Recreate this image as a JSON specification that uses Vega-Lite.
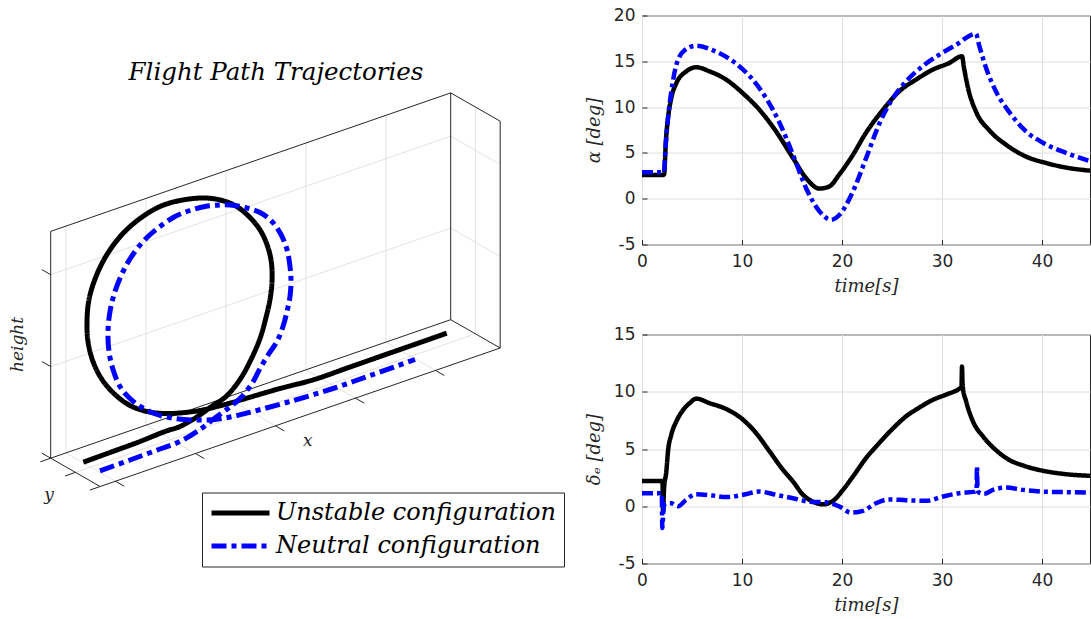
{
  "$schema": "https://vega.github.io/schema/vega-lite/v6.json",
  "background": "white",
  "padding": {"left": 0, "top": 5.5, "right": 0, "bottom": 0},
  "spacing": 62,
  "bounds": "flush",
  "resolve": {"scale": {"color": "independent", "strokeDash": "independent"}},
  "datasets": {
    "traj": [
      {"config": "Unstable configuration", "i": 1, "u": 32.6, "v": -4.0},
      {"config": "Unstable configuration", "i": 2, "u": 59.3, "v": 5.7},
      {"config": "Unstable configuration", "i": 3, "u": 89.3, "v": 16.7},
      {"config": "Unstable configuration", "i": 4, "u": 114.3, "v": 26.7},
      {"config": "Unstable configuration", "i": 5, "u": 129.3, "v": 31.7},
      {"config": "Unstable configuration", "i": 6, "u": 145.3, "v": 40.7},
      {"config": "Unstable configuration", "i": 7, "u": 162.3, "v": 52.7},
      {"config": "Unstable configuration", "i": 8, "u": 175.3, "v": 61.7},
      {"config": "Unstable configuration", "i": 9, "u": 189.3, "v": 78.7},
      {"config": "Unstable configuration", "i": 10, "u": 200.3, "v": 98.7},
      {"config": "Unstable configuration", "i": 11, "u": 209.3, "v": 119.7},
      {"config": "Unstable configuration", "i": 12, "u": 215.3, "v": 140.7},
      {"config": "Unstable configuration", "i": 13, "u": 219.3, "v": 158.7},
      {"config": "Unstable configuration", "i": 14, "u": 221.3, "v": 176.7},
      {"config": "Unstable configuration", "i": 15, "u": 220.8, "v": 194.7},
      {"config": "Unstable configuration", "i": 16, "u": 217.3, "v": 210.7},
      {"config": "Unstable configuration", "i": 17, "u": 210.3, "v": 226.7},
      {"config": "Unstable configuration", "i": 18, "u": 199.3, "v": 240.7},
      {"config": "Unstable configuration", "i": 19, "u": 184.3, "v": 252.7},
      {"config": "Unstable configuration", "i": 20, "u": 167.3, "v": 258.7},
      {"config": "Unstable configuration", "i": 21, "u": 151.0, "v": 260.2},
      {"config": "Unstable configuration", "i": 22, "u": 129.3, "v": 257.7},
      {"config": "Unstable configuration", "i": 23, "u": 109.3, "v": 251.7},
      {"config": "Unstable configuration", "i": 24, "u": 89.3, "v": 239.7},
      {"config": "Unstable configuration", "i": 25, "u": 71.3, "v": 223.7},
      {"config": "Unstable configuration", "i": 26, "u": 56.3, "v": 203.7},
      {"config": "Unstable configuration", "i": 27, "u": 45.3, "v": 181.7},
      {"config": "Unstable configuration", "i": 28, "u": 38.3, "v": 158.7},
      {"config": "Unstable configuration", "i": 29, "u": 36.3, "v": 136.7},
      {"config": "Unstable configuration", "i": 30, "u": 37.3, "v": 116.7},
      {"config": "Unstable configuration", "i": 31, "u": 42.3, "v": 96.7},
      {"config": "Unstable configuration", "i": 32, "u": 51.3, "v": 78.7},
      {"config": "Unstable configuration", "i": 33, "u": 64.3, "v": 63.7},
      {"config": "Unstable configuration", "i": 34, "u": 79.3, "v": 52.7},
      {"config": "Unstable configuration", "i": 35, "u": 96.3, "v": 46.7},
      {"config": "Unstable configuration", "i": 36, "u": 114.3, "v": 44.7},
      {"config": "Unstable configuration", "i": 37, "u": 134.3, "v": 45.7},
      {"config": "Unstable configuration", "i": 38, "u": 154.3, "v": 48.7},
      {"config": "Unstable configuration", "i": 39, "u": 174.3, "v": 53.7},
      {"config": "Unstable configuration", "i": 40, "u": 196.0, "v": 60.0},
      {"config": "Unstable configuration", "i": 41, "u": 229.3, "v": 69.7},
      {"config": "Unstable configuration", "i": 42, "u": 262.6, "v": 78.4},
      {"config": "Unstable configuration", "i": 43, "u": 296.0, "v": 90.0},
      {"config": "Unstable configuration", "i": 44, "u": 329.3, "v": 101.7},
      {"config": "Unstable configuration", "i": 45, "u": 362.3, "v": 113.2},
      {"config": "Unstable configuration", "i": 46, "u": 396.0, "v": 125.0},
      {"config": "Neutral configuration", "i": 1, "u": 49.3, "v": -12.6},
      {"config": "Neutral configuration", "i": 2, "u": 79.3, "v": -1.8},
      {"config": "Neutral configuration", "i": 3, "u": 109.3, "v": 9.2},
      {"config": "Neutral configuration", "i": 4, "u": 129.3, "v": 16.7},
      {"config": "Neutral configuration", "i": 5, "u": 149.3, "v": 28.7},
      {"config": "Neutral configuration", "i": 6, "u": 162.3, "v": 38.7},
      {"config": "Neutral configuration", "i": 7, "u": 177.3, "v": 49.7},
      {"config": "Neutral configuration", "i": 8, "u": 189.3, "v": 59.7},
      {"config": "Neutral configuration", "i": 9, "u": 201.3, "v": 74.7},
      {"config": "Neutral configuration", "i": 10, "u": 209.3, "v": 89.7},
      {"config": "Neutral configuration", "i": 11, "u": 218.3, "v": 104.7},
      {"config": "Neutral configuration", "i": 12, "u": 226.3, "v": 116.7},
      {"config": "Neutral configuration", "i": 13, "u": 232.3, "v": 131.7},
      {"config": "Neutral configuration", "i": 14, "u": 236.3, "v": 146.7},
      {"config": "Neutral configuration", "i": 15, "u": 239.3, "v": 161.7},
      {"config": "Neutral configuration", "i": 16, "u": 240.3, "v": 176.7},
      {"config": "Neutral configuration", "i": 17, "u": 239.3, "v": 191.7},
      {"config": "Neutral configuration", "i": 18, "u": 236.3, "v": 208.7},
      {"config": "Neutral configuration", "i": 19, "u": 230.3, "v": 223.7},
      {"config": "Neutral configuration", "i": 20, "u": 221.3, "v": 236.7},
      {"config": "Neutral configuration", "i": 21, "u": 209.3, "v": 245.7},
      {"config": "Neutral configuration", "i": 22, "u": 194.3, "v": 250.7},
      {"config": "Neutral configuration", "i": 23, "u": 179.3, "v": 253.2},
      {"config": "Neutral configuration", "i": 24, "u": 169.3, "v": 253.2},
      {"config": "Neutral configuration", "i": 25, "u": 154.3, "v": 251.7},
      {"config": "Neutral configuration", "i": 26, "u": 139.3, "v": 247.7},
      {"config": "Neutral configuration", "i": 27, "u": 124.3, "v": 241.7},
      {"config": "Neutral configuration", "i": 28, "u": 109.3, "v": 231.7},
      {"config": "Neutral configuration", "i": 29, "u": 96.3, "v": 220.7},
      {"config": "Neutral configuration", "i": 30, "u": 84.3, "v": 206.7},
      {"config": "Neutral configuration", "i": 31, "u": 73.3, "v": 188.7},
      {"config": "Neutral configuration", "i": 32, "u": 64.3, "v": 166.7},
      {"config": "Neutral configuration", "i": 33, "u": 59.3, "v": 146.7},
      {"config": "Neutral configuration", "i": 34, "u": 57.3, "v": 126.7},
      {"config": "Neutral configuration", "i": 35, "u": 58.3, "v": 106.7},
      {"config": "Neutral configuration", "i": 36, "u": 62.3, "v": 88.7},
      {"config": "Neutral configuration", "i": 37, "u": 69.3, "v": 71.7},
      {"config": "Neutral configuration", "i": 38, "u": 79.3, "v": 59.7},
      {"config": "Neutral configuration", "i": 39, "u": 91.3, "v": 50.7},
      {"config": "Neutral configuration", "i": 40, "u": 106.3, "v": 43.7},
      {"config": "Neutral configuration", "i": 41, "u": 124.3, "v": 39.7},
      {"config": "Neutral configuration", "i": 42, "u": 144.3, "v": 38.2},
      {"config": "Neutral configuration", "i": 43, "u": 164.3, "v": 38.7},
      {"config": "Neutral configuration", "i": 44, "u": 184.3, "v": 42.2},
      {"config": "Neutral configuration", "i": 45, "u": 202.3, "v": 46.7},
      {"config": "Neutral configuration", "i": 46, "u": 239.3, "v": 56.7},
      {"config": "Neutral configuration", "i": 47, "u": 282.3, "v": 69.7},
      {"config": "Neutral configuration", "i": 48, "u": 322.3, "v": 83.7},
      {"config": "Neutral configuration", "i": 49, "u": 364.3, "v": 98.7}
    ],
    "box": [
      {"part": "edge", "u1": 0, "v1": 0, "u2": 400, "v2": 138.5},
      {"part": "edge", "u1": 0, "v1": 0, "u2": 0, "v2": 226.8},
      {"part": "edge", "u1": 0, "v1": 226.8, "u2": 400, "v2": 365.3},
      {"part": "edge", "u1": 400, "v1": 138.5, "u2": 400, "v2": 365.3},
      {"part": "edge", "u1": 0, "v1": 0, "u2": 49.5, "v2": -28.3},
      {"part": "edge", "u1": 49.5, "v1": -28.3, "u2": 449.5, "v2": 110.2},
      {"part": "edge", "u1": 400, "v1": 365.3, "u2": 449.5, "v2": 337},
      {"part": "edge", "u1": 449.5, "v1": 110.2, "u2": 449.5, "v2": 337},
      {"part": "edge", "u1": 400, "v1": 138.5, "u2": 449.5, "v2": 110.2},
      {"part": "grid", "u1": 15.2, "v1": 5.3, "u2": 15.2, "v2": 232.1},
      {"part": "grid", "u1": 95.2, "v1": 33.0, "u2": 95.2, "v2": 259.8},
      {"part": "grid", "u1": 175.2, "v1": 60.7, "u2": 175.2, "v2": 287.5},
      {"part": "grid", "u1": 255.2, "v1": 88.4, "u2": 255.2, "v2": 315.2},
      {"part": "grid", "u1": 335.2, "v1": 116.1, "u2": 335.2, "v2": 342.9},
      {"part": "grid", "u1": 15.2, "v1": 5.3, "u2": 64.7, "v2": -23.0},
      {"part": "grid", "u1": 95.2, "v1": 33.0, "u2": 144.7, "v2": 4.7},
      {"part": "grid", "u1": 175.2, "v1": 60.7, "u2": 224.7, "v2": 32.4},
      {"part": "grid", "u1": 255.2, "v1": 88.4, "u2": 304.7, "v2": 60.1},
      {"part": "grid", "u1": 335.2, "v1": 116.1, "u2": 384.7, "v2": 87.8},
      {"part": "grid", "u1": 0, "v1": 91.6, "u2": 400, "v2": 230.1},
      {"part": "grid", "u1": 0, "v1": 183.5, "u2": 400, "v2": 322.0},
      {"part": "grid", "u1": 400, "v1": 230.1, "u2": 449.5, "v2": 201.8},
      {"part": "grid", "u1": 400, "v1": 322.0, "u2": 449.5, "v2": 293.7},
      {"part": "grid", "u1": 24.75, "v1": -14.15, "u2": 424.75, "v2": 124.35},
      {"part": "grid", "u1": 424.75, "v1": 124.35, "u2": 424.75, "v2": 351.15},
      {"part": "tick", "u1": 0, "v1": 0, "u2": -8.9, "v2": 5.1},
      {"part": "tick", "u1": 0, "v1": 91.6, "u2": -8.9, "v2": 96.7},
      {"part": "tick", "u1": 0, "v1": 183.5, "u2": -8.9, "v2": 188.6},
      {"part": "tick", "u1": 64.7, "v1": -23.0, "u2": 73.6, "v2": -28.1},
      {"part": "tick", "u1": 144.7, "v1": 4.7, "u2": 153.6, "v2": -0.4},
      {"part": "tick", "u1": 224.7, "v1": 32.4, "u2": 233.6, "v2": 27.3},
      {"part": "tick", "u1": 304.7, "v1": 60.1, "u2": 313.6, "v2": 55.0},
      {"part": "tick", "u1": 384.7, "v1": 87.8, "u2": 393.6, "v2": 82.7},
      {"part": "tick", "u1": 0, "v1": 0, "u2": -10.4, "v2": -3.6},
      {"part": "tick", "u1": 24.75, "v1": -14.15, "u2": 14.35, "v2": -17.75},
      {"part": "tick", "u1": 49.5, "v1": -28.3, "u2": 39.1, "v2": -31.9}
    ],
    "names": [
      {"name": "x", "u": 257, "v": 17.7},
      {"name": "y", "u": -1.7, "v": -36.3},
      {"name": "height", "u": -32.7, "v": 113.7}
    ],
    "alpha": [
      {"config": "Unstable configuration", "t": 0, "alpha": 2.6},
      {"config": "Unstable configuration", "t": 2.2, "alpha": 2.6},
      {"config": "Unstable configuration", "t": 2.4, "alpha": 6.5},
      {"config": "Unstable configuration", "t": 2.6, "alpha": 8.8},
      {"config": "Unstable configuration", "t": 2.93, "alpha": 11.0},
      {"config": "Unstable configuration", "t": 3.43, "alpha": 12.6},
      {"config": "Unstable configuration", "t": 4.43, "alpha": 13.9},
      {"config": "Unstable configuration", "t": 5.43, "alpha": 14.35},
      {"config": "Unstable configuration", "t": 6.76, "alpha": 13.9},
      {"config": "Unstable configuration", "t": 8.42, "alpha": 13.0},
      {"config": "Unstable configuration", "t": 10.1, "alpha": 11.5},
      {"config": "Unstable configuration", "t": 11.75, "alpha": 9.7},
      {"config": "Unstable configuration", "t": 13.4, "alpha": 7.36},
      {"config": "Unstable configuration", "t": 15.1, "alpha": 4.44},
      {"config": "Unstable configuration", "t": 16.4, "alpha": 2.26},
      {"config": "Unstable configuration", "t": 17.75, "alpha": 1.1},
      {"config": "Unstable configuration", "t": 18.75, "alpha": 1.35},
      {"config": "Unstable configuration", "t": 19.7, "alpha": 2.6},
      {"config": "Unstable configuration", "t": 21.1, "alpha": 4.8},
      {"config": "Unstable configuration", "t": 22.4, "alpha": 7.2},
      {"config": "Unstable configuration", "t": 24.1, "alpha": 9.7},
      {"config": "Unstable configuration", "t": 25.7, "alpha": 11.7},
      {"config": "Unstable configuration", "t": 27.4, "alpha": 13.0},
      {"config": "Unstable configuration", "t": 29.1, "alpha": 14.1},
      {"config": "Unstable configuration", "t": 30.7, "alpha": 14.8},
      {"config": "Unstable configuration", "t": 32.0, "alpha": 15.55},
      {"config": "Unstable configuration", "t": 32.2, "alpha": 14.3},
      {"config": "Unstable configuration", "t": 32.6, "alpha": 12.1},
      {"config": "Unstable configuration", "t": 33.4, "alpha": 9.5},
      {"config": "Unstable configuration", "t": 34.7, "alpha": 7.5},
      {"config": "Unstable configuration", "t": 36.4, "alpha": 5.9},
      {"config": "Unstable configuration", "t": 38.4, "alpha": 4.6},
      {"config": "Unstable configuration", "t": 40.4, "alpha": 3.9},
      {"config": "Unstable configuration", "t": 42.4, "alpha": 3.4},
      {"config": "Unstable configuration", "t": 44.8, "alpha": 3.06},
      {"config": "Neutral configuration", "t": 0, "alpha": 2.9},
      {"config": "Neutral configuration", "t": 2.2, "alpha": 2.9},
      {"config": "Neutral configuration", "t": 2.33, "alpha": 5.2},
      {"config": "Neutral configuration", "t": 2.6, "alpha": 8.8},
      {"config": "Neutral configuration", "t": 2.93, "alpha": 11.7},
      {"config": "Neutral configuration", "t": 3.43, "alpha": 14.6},
      {"config": "Neutral configuration", "t": 4.26, "alpha": 16.2},
      {"config": "Neutral configuration", "t": 5.43, "alpha": 16.7},
      {"config": "Neutral configuration", "t": 7.1, "alpha": 16.2},
      {"config": "Neutral configuration", "t": 9.1, "alpha": 15.0},
      {"config": "Neutral configuration", "t": 10.75, "alpha": 13.4},
      {"config": "Neutral configuration", "t": 12.4, "alpha": 11.0},
      {"config": "Neutral configuration", "t": 13.75, "alpha": 8.3},
      {"config": "Neutral configuration", "t": 15.1, "alpha": 4.8},
      {"config": "Neutral configuration", "t": 16.4, "alpha": 1.17},
      {"config": "Neutral configuration", "t": 17.75, "alpha": -1.38},
      {"config": "Neutral configuration", "t": 18.9, "alpha": -2.3},
      {"config": "Neutral configuration", "t": 19.75, "alpha": -1.75},
      {"config": "Neutral configuration", "t": 21.1, "alpha": 0.8},
      {"config": "Neutral configuration", "t": 22.4, "alpha": 4.4},
      {"config": "Neutral configuration", "t": 23.7, "alpha": 8.1},
      {"config": "Neutral configuration", "t": 25.1, "alpha": 11.0},
      {"config": "Neutral configuration", "t": 26.4, "alpha": 12.8},
      {"config": "Neutral configuration", "t": 28.1, "alpha": 14.5},
      {"config": "Neutral configuration", "t": 29.7, "alpha": 15.7},
      {"config": "Neutral configuration", "t": 31.4, "alpha": 16.8},
      {"config": "Neutral configuration", "t": 33.4, "alpha": 18.0},
      {"config": "Neutral configuration", "t": 33.7, "alpha": 16.8},
      {"config": "Neutral configuration", "t": 34.4, "alpha": 14.3},
      {"config": "Neutral configuration", "t": 35.4, "alpha": 11.7},
      {"config": "Neutral configuration", "t": 36.7, "alpha": 9.5},
      {"config": "Neutral configuration", "t": 38.4, "alpha": 7.35},
      {"config": "Neutral configuration", "t": 40.1, "alpha": 6.1},
      {"config": "Neutral configuration", "t": 42.4, "alpha": 5.0},
      {"config": "Neutral configuration", "t": 44.8, "alpha": 4.1}
    ],
    "elevator": [
      {"config": "Unstable configuration", "t": 0, "delta": 2.2},
      {"config": "Unstable configuration", "t": 2.05, "delta": 2.2},
      {"config": "Unstable configuration", "t": 2.1, "delta": -0.5},
      {"config": "Unstable configuration", "t": 2.2, "delta": 1.5},
      {"config": "Unstable configuration", "t": 2.43, "delta": 3.0},
      {"config": "Unstable configuration", "t": 2.6, "delta": 4.8},
      {"config": "Unstable configuration", "t": 2.93, "delta": 6.25},
      {"config": "Unstable configuration", "t": 3.43, "delta": 7.4},
      {"config": "Unstable configuration", "t": 4.1, "delta": 8.4},
      {"config": "Unstable configuration", "t": 4.76, "delta": 9.0},
      {"config": "Unstable configuration", "t": 5.43, "delta": 9.4},
      {"config": "Unstable configuration", "t": 6.76, "delta": 9.0},
      {"config": "Unstable configuration", "t": 8.4, "delta": 8.5},
      {"config": "Unstable configuration", "t": 10.1, "delta": 7.56},
      {"config": "Unstable configuration", "t": 11.4, "delta": 6.4},
      {"config": "Unstable configuration", "t": 12.75, "delta": 4.8},
      {"config": "Unstable configuration", "t": 14.1, "delta": 3.18},
      {"config": "Unstable configuration", "t": 15.1, "delta": 2.16},
      {"config": "Unstable configuration", "t": 16.1, "delta": 1.0},
      {"config": "Unstable configuration", "t": 17.1, "delta": 0.4},
      {"config": "Unstable configuration", "t": 18.1, "delta": 0.17},
      {"config": "Unstable configuration", "t": 19.1, "delta": 0.47},
      {"config": "Unstable configuration", "t": 20.1, "delta": 1.43},
      {"config": "Unstable configuration", "t": 21.1, "delta": 2.6},
      {"config": "Unstable configuration", "t": 22.4, "delta": 4.2},
      {"config": "Unstable configuration", "t": 23.7, "delta": 5.5},
      {"config": "Unstable configuration", "t": 25.1, "delta": 6.8},
      {"config": "Unstable configuration", "t": 26.4, "delta": 7.85},
      {"config": "Unstable configuration", "t": 27.7, "delta": 8.6},
      {"config": "Unstable configuration", "t": 29.1, "delta": 9.3},
      {"config": "Unstable configuration", "t": 30.4, "delta": 9.75},
      {"config": "Unstable configuration", "t": 31.8, "delta": 10.3},
      {"config": "Unstable configuration", "t": 31.95, "delta": 10.4},
      {"config": "Unstable configuration", "t": 32.0, "delta": 12.2},
      {"config": "Unstable configuration", "t": 32.05, "delta": 10.8},
      {"config": "Unstable configuration", "t": 32.1, "delta": 10.3},
      {"config": "Unstable configuration", "t": 32.4, "delta": 9.2},
      {"config": "Unstable configuration", "t": 33.1, "delta": 7.4},
      {"config": "Unstable configuration", "t": 34.1, "delta": 6.1},
      {"config": "Unstable configuration", "t": 35.4, "delta": 4.9},
      {"config": "Unstable configuration", "t": 36.7, "delta": 4.06},
      {"config": "Unstable configuration", "t": 38.1, "delta": 3.56},
      {"config": "Unstable configuration", "t": 40.1, "delta": 3.1},
      {"config": "Unstable configuration", "t": 42.4, "delta": 2.8},
      {"config": "Unstable configuration", "t": 44.8, "delta": 2.66},
      {"config": "Neutral configuration", "t": 0, "delta": 1.14},
      {"config": "Neutral configuration", "t": 1.98, "delta": 1.14},
      {"config": "Neutral configuration", "t": 2.03, "delta": -1.9},
      {"config": "Neutral configuration", "t": 2.1, "delta": -1.0},
      {"config": "Neutral configuration", "t": 2.2, "delta": 0.1},
      {"config": "Neutral configuration", "t": 2.5, "delta": 0.25},
      {"config": "Neutral configuration", "t": 2.93, "delta": 0.26},
      {"config": "Neutral configuration", "t": 3.6, "delta": 0.0},
      {"config": "Neutral configuration", "t": 4.4, "delta": 0.55},
      {"config": "Neutral configuration", "t": 5.4, "delta": 1.05},
      {"config": "Neutral configuration", "t": 7.1, "delta": 0.93},
      {"config": "Neutral configuration", "t": 8.4, "delta": 0.8},
      {"config": "Neutral configuration", "t": 10.1, "delta": 1.0},
      {"config": "Neutral configuration", "t": 11.75, "delta": 1.28},
      {"config": "Neutral configuration", "t": 13.4, "delta": 1.0},
      {"config": "Neutral configuration", "t": 15.1, "delta": 0.7},
      {"config": "Neutral configuration", "t": 16.75, "delta": 0.4},
      {"config": "Neutral configuration", "t": 18.4, "delta": 0.35},
      {"config": "Neutral configuration", "t": 19.75, "delta": -0.03},
      {"config": "Neutral configuration", "t": 20.9, "delta": -0.55},
      {"config": "Neutral configuration", "t": 22.1, "delta": -0.4},
      {"config": "Neutral configuration", "t": 23.4, "delta": 0.26},
      {"config": "Neutral configuration", "t": 24.7, "delta": 0.6},
      {"config": "Neutral configuration", "t": 26.4, "delta": 0.53},
      {"config": "Neutral configuration", "t": 28.4, "delta": 0.47},
      {"config": "Neutral configuration", "t": 30.1, "delta": 0.85},
      {"config": "Neutral configuration", "t": 31.7, "delta": 1.14},
      {"config": "Neutral configuration", "t": 33.3, "delta": 1.28},
      {"config": "Neutral configuration", "t": 33.45, "delta": 1.4},
      {"config": "Neutral configuration", "t": 33.5, "delta": 3.5},
      {"config": "Neutral configuration", "t": 33.55, "delta": 1.4},
      {"config": "Neutral configuration", "t": 33.7, "delta": 1.2},
      {"config": "Neutral configuration", "t": 34.2, "delta": 1.08},
      {"config": "Neutral configuration", "t": 35.1, "delta": 1.43},
      {"config": "Neutral configuration", "t": 36.4, "delta": 1.63},
      {"config": "Neutral configuration", "t": 38.1, "delta": 1.43},
      {"config": "Neutral configuration", "t": 40.1, "delta": 1.28},
      {"config": "Neutral configuration", "t": 42.4, "delta": 1.23},
      {"config": "Neutral configuration", "t": 44.8, "delta": 1.2}
    ]
  },
  "hconcat": [
    {
      "width": 580,
      "height": 590,
      "view": {"stroke": null},
      "title": {"text": "Flight Path Trajectories", "font": "DejaVu Serif", "fontStyle": "italic", "fontWeight": "normal", "fontSize": 24.5, "color": "#000000", "anchor": "middle", "offset": -70, "dx": -14},
      "layer": [
        {
          "data": {"name": "box"},
          "transform": [{"filter": "datum.part == 'grid'"}],
          "mark": {"type": "rule", "color": "#dcdcdc", "strokeWidth": 0.8},
          "encoding": {
            "x": {"field": "u1", "type": "quantitative", "scale": {"domain": [-50.7, 529.3], "nice": false, "zero": false}, "axis": null},
            "y": {"field": "v1", "type": "quantitative", "scale": {"domain": [-147.3, 442.7], "nice": false, "zero": false}, "axis": null},
            "x2": {"field": "u2"},
            "y2": {"field": "v2"}
          }
        },
        {
          "data": {"name": "box"},
          "transform": [{"filter": "datum.part != 'grid'"}],
          "mark": {"type": "rule", "color": "#262626", "strokeWidth": 1},
          "encoding": {
            "x": {"field": "u1", "type": "quantitative", "axis": null},
            "y": {"field": "v1", "type": "quantitative", "axis": null},
            "x2": {"field": "u2"},
            "y2": {"field": "v2"}
          }
        },
        {
          "data": {"name": "traj"},
          "mark": {"type": "line", "strokeWidth": 5, "strokeJoin": "round", "interpolate": "catmull-rom"},
          "encoding": {
            "x": {"field": "u", "type": "quantitative", "axis": null},
            "y": {"field": "v", "type": "quantitative", "axis": null},
            "order": {"field": "i", "type": "quantitative"},
            "color": {
              "field": "config", "type": "nominal",
              "scale": {"domain": ["Unstable configuration", "Neutral configuration"], "range": ["#000000", "#0000ff"]},
              "legend": {"orient": "none", "legendX": 202, "legendY": 477, "title": null, "symbolType": "stroke", "symbolSize": 3364, "symbolStrokeWidth": 5, "clipHeight": 27, "rowPadding": 6, "padding": 7, "labelFont": "DejaVu Serif", "labelFontStyle": "italic", "labelFontSize": 24, "labelColor": "#000000", "labelOffset": 4, "labelLimit": 0, "strokeColor": "#262626", "fillColor": "#ffffff", "cornerRadius": 0}
            },
            "strokeDash": {
              "field": "config", "type": "nominal",
              "scale": {"domain": ["Unstable configuration", "Neutral configuration"], "range": [[1, 0], [15, 5, 5, 5]]},
              "legend": {"orient": "none", "legendX": 202, "legendY": 477, "title": null, "symbolType": "stroke", "symbolSize": 3364, "symbolStrokeWidth": 5, "clipHeight": 27, "rowPadding": 6, "padding": 7, "labelFont": "DejaVu Serif", "labelFontStyle": "italic", "labelFontSize": 24, "labelColor": "#000000", "labelOffset": 4, "labelLimit": 0, "strokeColor": "#262626", "fillColor": "#ffffff", "cornerRadius": 0}
            }
          }
        },
        {
          "data": {"name": "names"},
          "transform": [{"filter": "datum.name != 'height'"}],
          "mark": {"type": "text", "font": "DejaVu Serif", "fontStyle": "italic", "fontSize": 17, "color": "#262626"},
          "encoding": {
            "x": {"field": "u", "type": "quantitative", "axis": null},
            "y": {"field": "v", "type": "quantitative", "axis": null},
            "text": {"field": "name"}
          }
        },
        {
          "data": {"name": "names"},
          "transform": [{"filter": "datum.name == 'height'"}],
          "mark": {"type": "text", "font": "DejaVu Serif", "fontStyle": "italic", "fontSize": 17, "color": "#262626", "angle": 270},
          "encoding": {
            "x": {"field": "u", "type": "quantitative", "axis": null},
            "y": {"field": "v", "type": "quantitative", "axis": null},
            "text": {"field": "name"}
          }
        }
      ]
    },
    {
      "vconcat": [
        {
          "width": 448,
          "height": 229,
          "data": {"name": "alpha"},
          "mark": {"type": "line", "strokeWidth": 4.5, "clip": true, "interpolate": "monotone"},
          "encoding": {
            "x": {"field": "t", "type": "quantitative", "title": "time[s]", "scale": {"domain": [0, 44.8], "nice": false, "zero": false}, "axis": {"values": [0, 10, 20, 30, 40]}},
            "y": {"field": "alpha", "type": "quantitative", "title": "α [deg]", "scale": {"domain": [-5, 20], "nice": false}, "axis": {"values": [-5, 0, 5, 10, 15, 20]}},
            "color": {"field": "config", "type": "nominal", "scale": {"domain": ["Unstable configuration", "Neutral configuration"], "range": ["#000000", "#0000ff"]}, "legend": null},
            "strokeDash": {"field": "config", "type": "nominal", "scale": {"domain": ["Unstable configuration", "Neutral configuration"], "range": [[1, 0], [11, 4, 4, 4]]}, "legend": null}
          }
        },
        {
          "width": 448,
          "height": 229,
          "data": {"name": "elevator"},
          "mark": {"type": "line", "strokeWidth": 4.5, "clip": true, "interpolate": "monotone"},
          "encoding": {
            "x": {"field": "t", "type": "quantitative", "title": "time[s]", "scale": {"domain": [0, 44.8], "nice": false, "zero": false}, "axis": {"values": [0, 10, 20, 30, 40]}},
            "y": {"field": "delta", "type": "quantitative", "title": "δₑ [deg]", "scale": {"domain": [-5, 15], "nice": false}, "axis": {"values": [-5, 0, 5, 10, 15]}},
            "color": {"field": "config", "type": "nominal", "scale": {"domain": ["Unstable configuration", "Neutral configuration"], "range": ["#000000", "#0000ff"]}, "legend": null},
            "strokeDash": {"field": "config", "type": "nominal", "scale": {"domain": ["Unstable configuration", "Neutral configuration"], "range": [[1, 0], [11, 4, 4, 4]]}, "legend": null}
          }
        }
      ],
      "spacing": 90,
      "bounds": "flush",
      "resolve": {"scale": {"y": "independent"}}
    }
  ],
  "config": {
    "font": "DejaVu Sans",
    "view": {"stroke": "#262626", "strokeWidth": 1},
    "axis": {
      "labelFont": "DejaVu Sans", "labelFontSize": 17, "labelColor": "#262626", "labelFlush": false,
      "labelExpr": "datum.value < 0 ? '-' + (-datum.value) : '' + datum.value",
      "titleFont": "DejaVu Serif", "titleFontStyle": "italic", "titleFontWeight": "normal", "titleFontSize": 18, "titleColor": "#262626",
      "gridColor": "#dedede", "gridOpacity": 1, "gridWidth": 1, "domain": false,
      "ticks": true, "tickSize": -5, "tickColor": "#262626", "tickWidth": 1
    },
    "axisX": {"labelPadding": 14, "titlePadding": 8},
    "axisY": {"labelPadding": 12, "titlePadding": 10}
  }
}
